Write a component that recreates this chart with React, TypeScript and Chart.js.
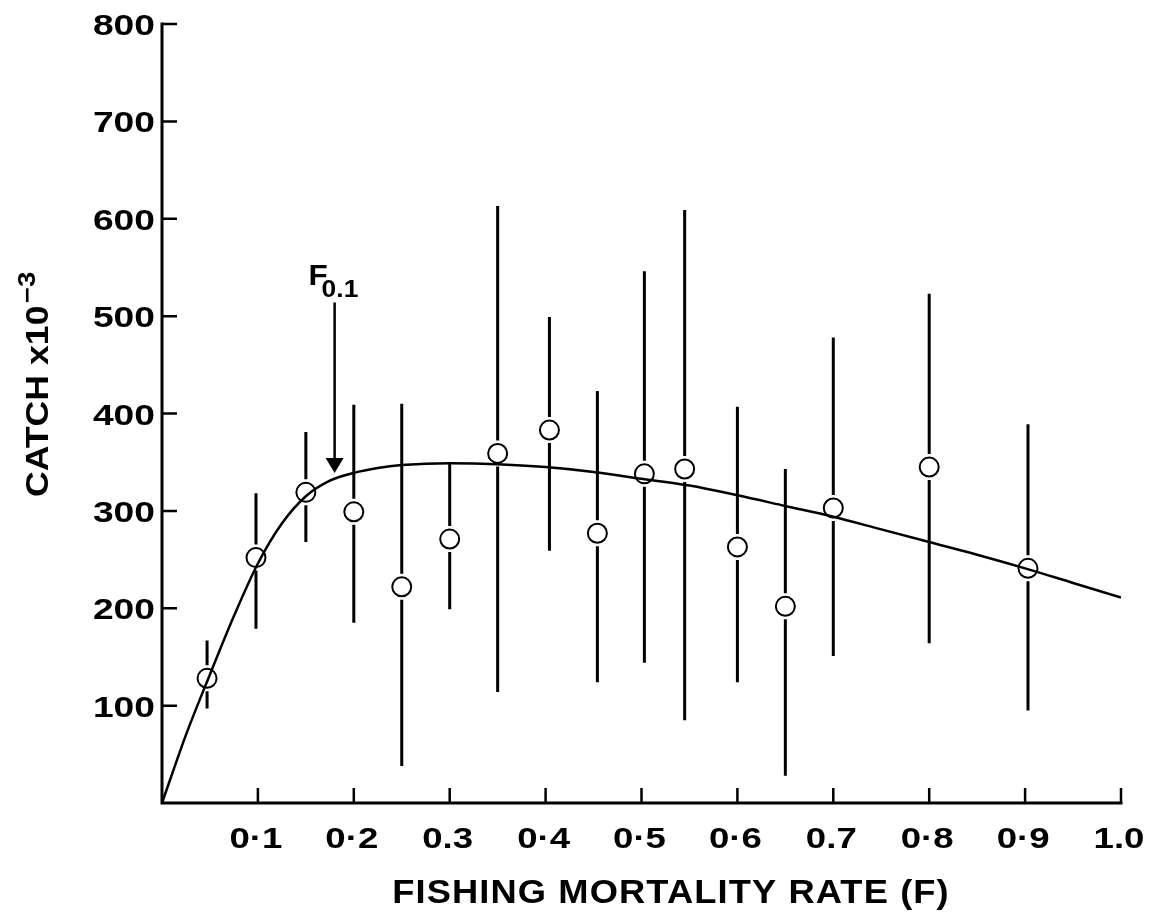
import { useEffect, useRef } from "react";
import { Chart, registerables } from "chart.js";

Chart.register(...registerables);

// Observed catches (x10^3) with their ranges, by fishing mortality rate F
const fishingRates = [0.047, 0.098, 0.15, 0.2, 0.25, 0.3, 0.35, 0.404, 0.454, 0.503, 0.545, 0.6, 0.65, 0.7, 0.8, 0.903];
const catchMeans = [128, 252, 319, 299, 222, 271, 359, 383, 277, 338, 343, 263, 202, 303, 345, 241];
const catchLows = [97, 179, 268, 185, 38, 199, 114, 259, 124, 144, 85, 124, 28, 151, 164, 95];
const catchHighs = [167, 318, 381, 409, 410, 349, 613, 499, 423, 546, 609, 407, 343, 478, 523, 389];

// Fitted yield curve
const curveRates = [0, 0.025, 0.05, 0.075, 0.1, 0.125, 0.15, 0.175, 0.2, 0.225, 0.25, 0.3, 0.35, 0.4, 0.45, 0.5, 0.55, 0.6, 0.65, 0.7, 0.75, 0.8, 0.85, 0.9, 0.95, 1.0];
const curveCatch = [0, 70, 132, 192, 246, 287, 315, 331, 339, 344, 347, 349, 348, 345, 340, 333, 326, 316, 305, 294, 281, 268, 255, 241, 226, 211];

// Axis ticks
const xTickValues = [0.1, 0.2, 0.3, 0.4, 0.5, 0.6, 0.7, 0.8, 0.9, 1.0];
const xTickLabels = ["0·1", "0·2", "0.3", "0·4", "0·5", "0·6", "0.7", "0·8", "0·9", "1.0"];
const yTickValues = [100, 200, 300, 400, 500, 600, 700, 800];
const yTickLabels = ["100", "200", "300", "400", "500", "600", "700", "800"];

// F0.1 reference arrow
const f01Rate = 0.18;
const f01ArrowTop = 514;
const f01ArrowTip = 339;

const FONT = '"Liberation Sans", Arial, Helvetica, sans-serif';
const INK = "#000";

function stretchText(
  ctx: CanvasRenderingContext2D,
  text: string,
  x: number,
  y: number,
  sx: number,
  align: CanvasTextAlign
) {
  ctx.save();
  ctx.translate(x, y);
  ctx.scale(sx, 1);
  ctx.textAlign = align;
  ctx.textBaseline = "alphabetic";
  ctx.fillText(text, 0, 0);
  ctx.restore();
}

const errorBarPlugin = {
  id: "errorBars",
  beforeDatasetsDraw(chart: any) {
    const { ctx, scales } = chart;
    const xs = scales.x;
    const ys = scales.y;
    const gap = 13;
    ctx.save();
    ctx.strokeStyle = INK;
    ctx.lineWidth = 3;
    ctx.lineCap = "butt";
    fishingRates.forEach((rate, i) => {
      const x = xs.getPixelForValue(rate);
      const yc = ys.getPixelForValue(catchMeans[i]);
      const yh = ys.getPixelForValue(catchHighs[i]);
      const yl = ys.getPixelForValue(catchLows[i]);
      ctx.beginPath();
      if (yh < yc - gap) {
        ctx.moveTo(x, yh);
        ctx.lineTo(x, yc - gap);
      }
      if (yl > yc + gap) {
        ctx.moveTo(x, yc + gap);
        ctx.lineTo(x, yl);
      }
      ctx.stroke();
    });
    ctx.restore();
  },
};

const framePlugin = {
  id: "frameAndText",
  afterDatasetsDraw(chart: any) {
    const { ctx, scales } = chart;
    const xs = scales.x;
    const ys = scales.y;
    const x0 = xs.getPixelForValue(0);
    const x1 = xs.getPixelForValue(1);
    const y0 = ys.getPixelForValue(0);
    const yTop = ys.getPixelForValue(800);

    ctx.save();
    ctx.strokeStyle = INK;
    ctx.fillStyle = INK;

    // axis lines
    ctx.lineWidth = 3;
    ctx.lineCap = "square";
    ctx.beginPath();
    ctx.moveTo(x0, yTop);
    ctx.lineTo(x0, y0);
    ctx.lineTo(x1, y0);
    ctx.stroke();

    // inward ticks
    ctx.lineWidth = 2.5;
    ctx.lineCap = "butt";
    ctx.beginPath();
    yTickValues.forEach((v) => {
      const y = ys.getPixelForValue(v);
      ctx.moveTo(x0, y);
      ctx.lineTo(x0 + 15, y);
    });
    xTickValues.forEach((v) => {
      const x = xs.getPixelForValue(v);
      ctx.moveTo(x, y0);
      ctx.lineTo(x, y0 - 15);
    });
    ctx.stroke();

    // tick labels
    ctx.font = `bold 30px ${FONT}`;
    yTickValues.forEach((v, i) => {
      const y = ys.getPixelForValue(v);
      stretchText(ctx, yTickLabels[i], x0 - 7, y + 11, 1.24, "right");
    });
    xTickValues.forEach((v, i) => {
      const x = xs.getPixelForValue(v);
      stretchText(ctx, xTickLabels[i], x - 2, y0 + 45, 1.22, "center");
    });

    // x axis title
    ctx.font = `bold 33px ${FONT}`;
    (ctx as any).letterSpacing = "1px";
    stretchText(ctx, "FISHING MORTALITY RATE (F)", 671, y0 + 100, 1.1, "center");
    (ctx as any).letterSpacing = "0px";

    // y axis title with superscript exponent
    ctx.save();
    ctx.translate(48, 497);
    ctx.rotate(-Math.PI / 2);
    ctx.scale(1.15, 1);
    ctx.textAlign = "left";
    ctx.textBaseline = "alphabetic";
    ctx.font = `bold 31px ${FONT}`;
    const main = "CATCH x10";
    ctx.fillText(main, 0, 0);
    const w = ctx.measureText(main).width;
    ctx.font = `bold 24px ${FONT}`;
    ctx.fillText("\u22123", w + 2, -13);
    ctx.restore();

    // F0.1 arrow
    const ax = xs.getPixelForValue(f01Rate);
    const ay0 = ys.getPixelForValue(f01ArrowTop);
    const ay1 = ys.getPixelForValue(f01ArrowTip);
    ctx.lineWidth = 2.5;
    ctx.beginPath();
    ctx.moveTo(ax, ay0);
    ctx.lineTo(ax, ay1 - 12);
    ctx.stroke();
    ctx.beginPath();
    ctx.moveTo(ax - 9, ay1 - 15);
    ctx.lineTo(ax + 9, ay1 - 15);
    ctx.lineTo(ax, ay1);
    ctx.closePath();
    ctx.fill();

    ctx.font = `bold 30px ${FONT}`;
    stretchText(ctx, "F", ax - 26, ay0 - 17, 1.05, "left");
    ctx.font = `bold 24px ${FONT}`;
    stretchText(ctx, "0.1", ax - 13, ay0 - 5, 1.1, "left");

    ctx.restore();
  },
};

export default function App() {
  const canvasRef = useRef<HTMLCanvasElement>(null);

  useEffect(() => {
    const canvas = canvasRef.current;
    if (!canvas) return;
    const chart = new Chart(canvas, {
      type: "scatter",
      data: {
        datasets: [
          {
            type: "line",
            label: "Yield curve",
            data: curveRates.map((r, i) => ({ x: r, y: curveCatch[i] })),
            borderColor: INK,
            borderWidth: 2.5,
            pointRadius: 0,
            cubicInterpolationMode: "monotone",
            fill: false,
            order: 0,
          } as any,
          {
            type: "scatter",
            label: "Catch",
            data: fishingRates.map((r, i) => ({ x: r, y: catchMeans[i] })),
            pointRadius: 9.5,
            pointBorderWidth: 2,
            pointBackgroundColor: "#fff",
            pointBorderColor: INK,
            showLine: false,
            order: 1,
          } as any,
        ],
      },
      options: {
        responsive: false,
        animation: false,
        devicePixelRatio: 1,
        layout: { padding: { left: 162, right: 31, top: 24, bottom: 116 } },
        plugins: {
          legend: { display: false },
          tooltip: { enabled: false },
        },
        scales: {
          x: { type: "linear", min: 0, max: 1, display: false },
          y: { type: "linear", min: 0, max: 800, display: false },
        },
      },
      plugins: [errorBarPlugin, framePlugin],
    });
    return () => chart.destroy();
  }, []);

  return (
    <div style={{ position: "fixed", left: 0, top: 0, width: 1152, height: 919, background: "#fff" }}>
      <canvas ref={canvasRef} width={1152} height={919} style={{ display: "block" }} />
    </div>
  );
}
